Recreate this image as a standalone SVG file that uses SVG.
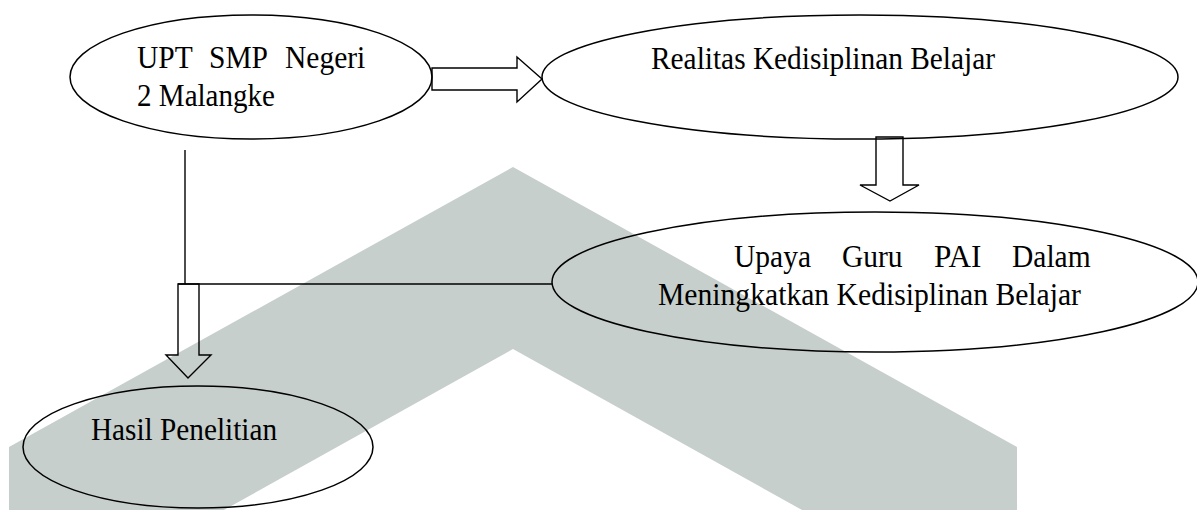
<svg xmlns="http://www.w3.org/2000/svg" width="1197" height="510" viewBox="0 0 1197 510">
<style>
.shape{fill:none;stroke:#000;stroke-width:1.5}
.line{fill:none;stroke:#000;stroke-width:1.4}
.arrow{fill:none;stroke:#000;stroke-width:1.4;stroke-linejoin:miter}
text{font-family:"Liberation Serif","Times New Roman",serif;font-size:31px;fill:#000}
</style>
<rect width="1197" height="510" fill="#fff"/>
<polygon id="watermark" points="513,167 1017,447 1017,520 820,520 513,349 206,520 9,520 9,447" fill="#c6cfcb"/>
<g id="connectors">
<polygon class="arrow" points="432,68 517,68 517,57 542,79 517,102 517,90 432,90"/>
<polygon class="arrow" points="876,137 903,137 903,185 919,185 890,201 860,185 876,185"/>
<line class="line" x1="185" y1="150" x2="185" y2="284"/>
<line class="line" x1="178" y1="284" x2="552" y2="284"/>
<polygon class="arrow" points="178,284 199,284 199,355 211,355 188,378 166,355 178,355"/>
</g>
<g id="node-upt">
<ellipse class="shape" cx="251" cy="77" rx="181" ry="62"/>
<text x="137" y="68" textLength="55.7" lengthAdjust="spacingAndGlyphs">UPT</text>
<text x="209" y="68" textLength="59" lengthAdjust="spacingAndGlyphs">SMP</text>
<text x="285" y="68" textLength="80.3" lengthAdjust="spacingAndGlyphs">Negeri</text>
<text x="137" y="106" textLength="138" lengthAdjust="spacingAndGlyphs">2 Malangke</text>
</g>
<g id="node-realitas">
<ellipse class="shape" cx="860" cy="77" rx="318" ry="62"/>
<text x="651" y="69" textLength="344" lengthAdjust="spacingAndGlyphs">Realitas Kedisiplinan Belajar</text>
</g>
<g id="node-upaya">
<ellipse class="shape" cx="875" cy="282" rx="323" ry="70"/>
<text x="734" y="267" textLength="77" lengthAdjust="spacingAndGlyphs">Upaya</text>
<text x="842" y="267" textLength="60.6" lengthAdjust="spacingAndGlyphs">Guru</text>
<text x="934" y="267" textLength="47.5" lengthAdjust="spacingAndGlyphs">PAI</text>
<text x="1012" y="267" textLength="78.6" lengthAdjust="spacingAndGlyphs">Dalam</text>
<text x="658" y="305" textLength="423" lengthAdjust="spacingAndGlyphs">Meningkatkan Kedisiplinan Belajar</text>
</g>
<g id="node-hasil">
<ellipse class="shape" cx="198" cy="447" rx="175" ry="61"/>
<text x="91" y="440" textLength="186" lengthAdjust="spacingAndGlyphs">Hasil Penelitian</text>
</g>
</svg>
